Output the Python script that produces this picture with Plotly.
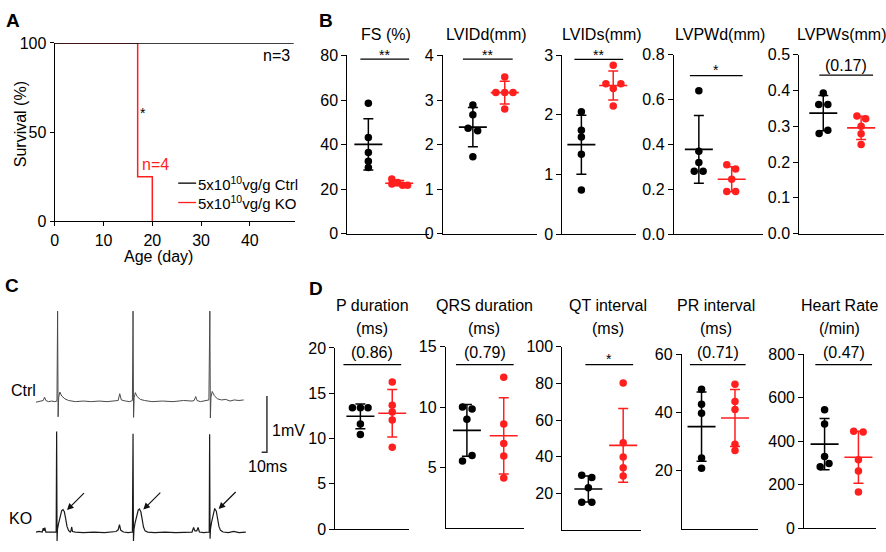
import numpy as np
import plotly.graph_objects as go

W, H = 886, 552
FONT = "Liberation Sans, Arial, sans-serif"
RED = "#ff1f1f"
BLACK = "#000000"

# ---- A: survival (Kaplan-Meier steps)
days_ctrl = [0, 49]
surv_ctrl = [100, 100]
days_ko = [0, 17, 17, 20, 20]
surv_ko = [100, 100, 25, 25, 0]
age_ticks = [0, 10, 20, 30, 40]
surv_ticks = [0, 50, 100]

# ---- B: echocardiography (5 Ctrl, 5 KO)
fs_ctrl = [58.6, 43.2, 36.5, 32.6, 29.7]
fs_ko = [24.6, 22.4, 23.0, 21.8, 21.8]
lvidd_ctrl = [2.89, 2.67, 2.37, 2.31, 1.73]
lvidd_ko = [3.52, 3.17, 3.17, 3.17, 2.80]
lvids_ctrl = [2.05, 1.74, 1.63, 1.34, 0.74]
lvids_ko = [2.83, 2.52, 2.52, 2.44, 2.15]
lvpwd_ctrl = [0.64, 0.37, 0.32, 0.28, 0.28]
lvpwd_ko = [0.31, 0.29, 0.245, 0.19, 0.19]
lvpws_ctrl = [0.393, 0.361, 0.361, 0.289, 0.280]
lvpws_ko = [0.329, 0.321, 0.300, 0.279, 0.249]

# ---- D: ECG parameters
p_ctrl = [13.4, 13.4, 13.4, 11.6, 10.45]
p_ko = [16.25, 13.66, 12.94, 12.05, 9.03]
qrs_ctrl = [10.0, 9.85, 9.0, 6.0, 5.55]
qrs_ko = [12.46, 8.6, 7.0, 5.96, 4.14]
qt_ctrl = [30.0, 28.8, 23.1, 15.2, 15.2]
qt_ko = [80.1, 47.6, 39.9, 34.0, 29.6]
pr_ctrl = [48.0, 42.8, 39.7, 24.3, 20.8]
pr_ko = [49.7, 43.8, 41.0, 29.1, 26.9]
hr_ctrl = [545, 479, 330, 283, 297]
hr_ko = [446, 442, 315, 263, 167]

# ---- C: ECG traces (time in ms, voltage in mV)
ctrl_t = [0, 8, 14, 16.5, 19, 24, 30, 36, 40, 41.2, 42.2, 43.2, 45.5, 49, 55, 62,
          75, 90, 105, 120, 135, 150, 156, 159, 162, 170, 178, 183,
          184.2, 185.2, 186.3, 188.5, 192, 198, 206,
          220, 240, 260, 280, 296, 300, 303, 305.5, 312, 320, 328,
          329.8, 330.8, 331.9, 334.3, 338, 344, 352, 360, 368, 376, 385, 394]
ctrl_mv = [-0.03, -0.02, 0.0, 0.06, 0.0, -0.02, -0.01, -0.02, -0.01, 1.59, -0.29, 0.05, 0.15, 0.08, 0.03, 0.0,
           -0.02, -0.01, -0.02, -0.01, -0.02, 0.0, 0.0, 0.12, 0.01, -0.01, -0.02, 0.0,
           1.59, -0.30, 0.05, 0.14, 0.07, 0.02, 0.0,
           -0.02, -0.01, -0.02, 0.0, -0.01, 0.0, 0.07, 0.0, -0.02, 0.0, 0.01,
           1.59, -0.31, 0.06, 0.16, 0.09, 0.03, 0.01, 0.02, -0.01, 0.01, 0.0, 0.01]
ko_t = [0, 6, 12, 14, 15.5, 17, 19, 26, 34, 38.5, 39.4, 40.2, 41, 43, 46, 49, 51.5, 54, 56.5, 59, 62, 65,
        66.5, 68, 69.5, 75, 90, 110, 130, 145, 152, 156, 158.5, 161, 166, 175, 183,
        184.2, 185, 186, 188, 191, 194, 196.2, 199, 201.5, 204, 207, 212,
        225, 245, 265, 285, 296, 299, 301.5, 305, 307.5, 310, 318, 328.6,
        329.4, 330.2, 331, 333, 336, 339, 342, 344.5, 347, 350, 355, 365, 375, 385, 398]
ko_mv = [0.0, 0.01, 0.0, 0.07, 0.02, 0.08, 0.0, 0.0, -0.01, 0.0, 1.79, -0.16, 0.05, 0.15, 0.28, 0.38, 0.40, 0.36, 0.24, 0.10, 0.03, 0.0,
         0.02, 0.09, 0.01, 0.0, -0.01, 0.0, -0.01, 0.0, 0.01, 0.04, 0.13, 0.03, 0.0, -0.01, 0.0,
         1.75, -0.16, 0.05, 0.16, 0.30, 0.39, 0.41, 0.36, 0.23, 0.09, 0.02, 0.0,
         -0.01, 0.0, -0.01, 0.0, 0.0, 0.08, 0.02, 0.02, 0.08, 0.0, -0.01, 0.0,
         1.74, -0.12, 0.05, 0.17, 0.32, 0.42, 0.37, 0.24, 0.10, 0.03, 0.0, -0.01, 0.01, -0.01, 0.0]
scale_ms, scale_mv = 10, 1

fig = go.Figure()
layout_axes = {}


def px_x(x):
    return x / W


def px_y(y):
    return 1 - y / H


def note(text, x, y, size=15, color=BLACK, family=FONT, xanchor="center", **kw):
    fig.add_annotation(text=text, x=px_x(x), y=px_y(y), xref="paper", yref="paper",
                       showarrow=False, xanchor=xanchor, yanchor="middle",
                       font=dict(size=size, color=color, family=family), **kw)


def hline(x0, x1, y, color=BLACK, width=1.3):
    fig.add_shape(type="line", xref="paper", yref="paper", x0=px_x(x0), x1=px_x(x1),
                  y0=px_y(y), y1=px_y(y), line=dict(color=color, width=width))


axis_base = dict(showline=True, linecolor=BLACK, linewidth=1.3, showgrid=False, zeroline=False,
                 ticks="outside", ticklen=5, tickwidth=1.3, tickcolor=BLACK,
                 tickfont=dict(family=FONT, size=16, color=BLACK))


def set_axes(i, box, xr, yr, xextra=None, yextra=None):
    x0, x1, y0, y1 = box
    xa = dict(axis_base, domain=[px_x(x0), px_x(x1)], range=xr, anchor=f"y{i}")
    ya = dict(axis_base, domain=[px_y(y1), px_y(y0)], range=yr, anchor=f"x{i}")
    xa.update(xextra or {})
    ya.update(yextra or {})
    layout_axes["xaxis" if i == 1 else f"xaxis{i}"] = xa
    layout_axes["yaxis" if i == 1 else f"yaxis{i}"] = ya


# ---------------- A
set_axes(1, (51, 292, 36, 220), [0, 49.2], [0, 100],
         dict(tickvals=age_ticks, ticklen=4),
         dict(tickvals=surv_ticks, ticklen=4))
fig.add_trace(go.Scatter(x=days_ko, y=surv_ko, mode="lines", line=dict(color=RED, width=1.5),
                         xaxis="x", yaxis="y", showlegend=False))
fig.add_trace(go.Scatter(x=days_ctrl, y=surv_ctrl, mode="lines", line=dict(color=BLACK, width=1.5),
                         xaxis="x", yaxis="y", showlegend=False))
note("<b>A</b>", 9.5, 13, size=19)
note("Survival (%)", 16, 120, size=16, textangle=-90)
note("Age (day)", 155, 256, size=16)
note("n=3", 274, 49, size=16)
note("*", 140, 108, size=14)
note("n=4", 152.5, 161, size=16, color=RED)
hline(175, 193, 180.7)
hline(175, 193, 200.7, color=RED)
note("5x10<sup>10</sup>vg/g Ctrl", 193, 181, size=15, xanchor="left")
note("5x10<sup>10</sup>vg/g KO", 193, 201, size=15, xanchor="left")


# ---------------- dot plots (B and D)
def dot_panel(i, ctrl, ko, cdx, kdx, top, ticks, box, centers, fmt=None):
    x0, x1, y0, y1 = box
    cb, cr = centers
    unit = cr - cb
    xr = [-(cb - x0) / unit, 1 + (x1 - cr) / unit]
    yextra = dict(tickvals=ticks)
    if fmt:
        yextra["tickformat"] = fmt
    set_axes(i, box, xr, [0, top], dict(ticks="", showticklabels=False), yextra)
    for pos, vals, dx, col in [(0, ctrl, cdx, BLACK), (1, ko, kdx, RED)]:
        m = float(np.mean(vals))
        sd = float(np.std(vals, ddof=1))
        fig.add_trace(go.Scatter(x=[pos], y=[m], mode="markers",
                                 marker=dict(symbol="line-ew", size=20, color=col,
                                             line=dict(color=col, width=1.6)),
                                 error_y=dict(type="data", array=[sd], symmetric=True, color=col,
                                              thickness=1.5, width=5),
                                 xaxis=f"x{i}", yaxis=f"y{i}", showlegend=False, hoverinfo="skip"))
        fig.add_trace(go.Scatter(x=[pos + d for d in dx], y=vals, mode="markers",
                                 marker=dict(color=col, size=7.5),
                                 xaxis=f"x{i}", yaxis=f"y{i}", showlegend=False))


z5 = [0, 0, 0, 0, 0]
# B panels
dot_panel(2, fs_ctrl, fs_ko, z5, [-0.24, -0.24, -0.05, 0.11, 0.27], 80, [0, 20, 40, 60, 80],
          (345, 427, 49, 233), (366, 397))
dot_panel(3, lvidd_ctrl, lvidd_ko, [0, 0, -0.15, 0.15, 0], [0, -0.28, 0, 0.26, 0], 4, [0, 1, 2, 3, 4],
          (441, 535, 49, 233), (471, 503))
dot_panel(4, lvids_ctrl, lvids_ko, z5, [0, -0.23, 0.24, 0, 0], 3, [0, 1, 2, 3],
          (561, 635, 48.7, 233.3), (580, 612))
dot_panel(5, lvpwd_ctrl, lvpwd_ko, [0, 0, 0, -0.14, 0.13], [-0.15, 0.12, 0, -0.15, 0.12], 0.8,
          [0, 0.2, 0.4, 0.6, 0.8], (673, 762, 48.3, 233.3), (698, 731), fmt=".1f")
dot_panel(6, lvpws_ctrl, lvpws_ko, [0, -0.12, 0.12, 0.12, -0.11], [-0.11, 0.12, 0, 0, 0], 0.5,
          [0, 0.1, 0.2, 0.3, 0.4, 0.5], (799, 884, 48.3, 232.7), (823, 861), fmt=".1f")
note("<b>B</b>", 323.5, 12.5, size=19)
for title, cx in [("FS (%)", 384), ("LVIDd(mm)", 485), ("LVIDs(mm)", 600.5),
                  ("LVPWd(mm)", 719), ("LVPWs(mm)", 841)]:
    note(title, cx, 27.5, size=16)
for sig, x0, x1, ly, ty, size in [("**", 358, 407, 52.7, 48, 14), ("**", 461, 511, 52.7, 48, 14),
                                  ("**", 573, 622, 53, 48, 14), ("*", 689, 742, 69.7, 64, 14),
                                  ("(0.17)", 819, 873, 69.3, 59.3, 16)]:
    hline(x0, x1, ly)
    note(sig, (x0 + x1) / 2, ty, size=size)

# D panels
dot_panel(8, p_ctrl, p_ko, [-0.25, 0, 0.24, 0, 0], z5, 20, [0, 5, 10, 15, 20],
          (333, 407, 350.7, 537.7), (358, 390))
dot_panel(9, qrs_ctrl, qrs_ko, [-0.12, 0.14, 0, 0.14, -0.12], z5, 15, [5, 10, 15],
          (444, 522, 349.3, 536.8), (465, 502))
dot_panel(10, qt_ctrl, qt_ko, [-0.19, 0.1, 0, -0.19, 0.1], z5, 100, [20, 40, 60, 80, 100],
          (561, 640, 349.3, 538.9), (587, 622))
dot_panel(11, pr_ctrl, pr_ko, z5, z5, 60, [20, 40, 60],
          (681, 757, 357.3, 537.3), (700.7, 734.3))
dot_panel(12, hr_ctrl, hr_ko, [0, 0, 0, -0.13, 0.13], [-0.14, 0.14, 0, 0, 0], 800, [0, 200, 400, 600, 800],
          (804, 876, 357.3, 536.7), (824.3, 858.3))
note("<b>D</b>", 313.7, 289, size=19)
for name, unit, cx in [("P duration", "(ms)", 370), ("QRS duration", "(ms)", 482.5),
                       ("QT interval", "(ms)", 606.7), ("PR interval", "(ms)", 714.8),
                       ("Heart Rate", "(/min)", 839)]:
    note(name, cx, 307, size=16)
    note(unit, cx, 331, size=16)
for sig, x0, x1, ty, size in [("(0.86)", 341, 399, 355, 16), ("(0.79)", 454, 512, 355, 16),
                              ("*", 584, 632, 362, 14), ("(0.71)", 689, 745, 355, 16),
                              ("(0.47)", 815, 872, 355, 16)]:
    hline(x0, x1, 368)
    note(sig, (x0 + x1) / 2, ty, size=size)

# ---------------- C: ECG traces
ctrl_offset = 2.34  # Ctrl trace drawn above the KO trace
set_axes(7, (32, 300, 300, 552), [0, 505.7], [-0.195, 4.15],
         dict(visible=False), dict(visible=False))
fig.add_trace(go.Scatter(x=ctrl_t, y=[v + ctrl_offset for v in ctrl_mv], mode="lines",
                         line=dict(color="#4a4a4a", width=1.0), xaxis="x7", yaxis="y7", showlegend=False))
fig.add_trace(go.Scatter(x=ko_t, y=ko_mv, mode="lines",
                         line=dict(color="#1a1a1a", width=1.2), xaxis="x7", yaxis="y7", showlegend=False))
bar_t, bar_v = 438, 1.42
fig.add_trace(go.Scatter(x=[bar_t - scale_ms, bar_t, bar_t], y=[bar_v, bar_v, bar_v + scale_mv],
                         mode="lines", line=dict(color="#333333", width=1.5),
                         xaxis="x7", yaxis="y7", showlegend=False))
# arrows pointing at the prominent wave after each KO QRS
t_arr, v_arr = np.array(ko_t), np.array(ko_mv)
for s in t_arr[v_arr > 1.0]:
    win = (t_arr > s + 3) & (t_arr < s + 20)
    k = np.argmax(np.where(win, v_arr, -9))
    fig.add_annotation(x=t_arr[k] + 7.5, y=v_arr[k] - 0.01, xref="x7", yref="y7",
                       ax=20, ay=-20, showarrow=True, arrowhead=2, arrowsize=1.1,
                       arrowwidth=1.2, arrowcolor="#111111", text=" ")
note("<b>C</b>", 8.5, 286.5, size=19)
note("Ctrl", 20, 395, size=16)
note("KO", 17, 527, size=16)
note("1mV", 267, 436, size=16, xanchor="left")
note("10ms", 265, 473, size=16)

fig.update_layout(width=W, height=H, margin=dict(l=0, r=0, t=0, b=0),
                  paper_bgcolor="white", plot_bgcolor="white", showlegend=False,
                  font=dict(family=FONT, color=BLACK), **layout_axes)

# the page's default body margin would push the figure off the 886x552 window
fig.write_html("out.html", config={"displayModeBar": False},
               post_script="document.body.style.margin='0';document.body.style.overflow='hidden';")
